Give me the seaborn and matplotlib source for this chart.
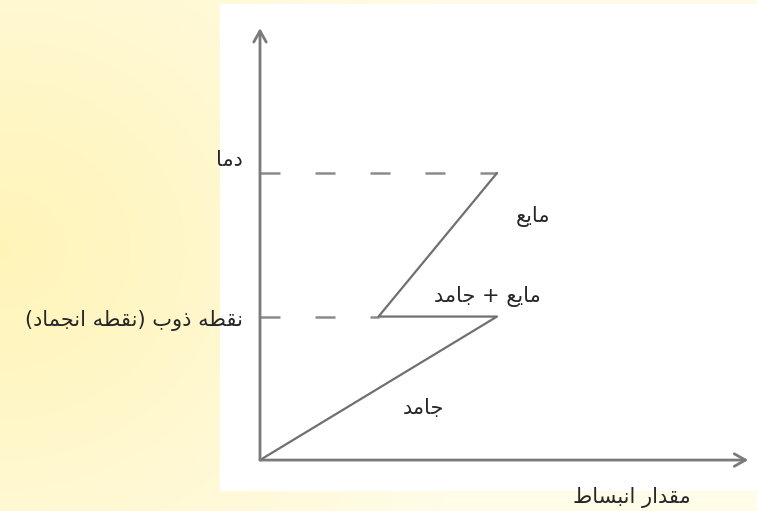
import numpy as np
import pandas as pd
import matplotlib
matplotlib.use('Agg')
import matplotlib.pyplot as plt
import seaborn as sns
from matplotlib.patches import Rectangle

# path of the expansion curve: solid -> melting (contraction) -> liquid
expansion = [0, 4, 2, 4]
temperature = [0, 1, 1, 2]
melting_temp = 1
top_temp = 2
x_axis_end = 8.24
y_axis_end = 3.01

labels = {
    'temp': 'دما',
    'melt': 'نقطه ذوب (نقطه انجماد)',
    'liquid': 'مایع',
    'mix': 'مایع + جامد',
    'solid': 'جامد',
    'xlabel': 'مقدار انبساط',
}

# matplotlib does no arabic shaping, so pick the presentation forms by hand
# (isolated, final, initial, medial)
FORMS = {
    'ا': ('\ufe8d', '\ufe8e', None, None),
    'ب': ('\ufe8f', '\ufe90', '\ufe91', '\ufe92'),
    'ج': ('\ufe9d', '\ufe9e', '\ufe9f', '\ufea0'),
    'د': ('\ufea9', '\ufeaa', None, None),
    'ذ': ('\ufeab', '\ufeac', None, None),
    'ر': ('\ufead', '\ufeae', None, None),
    'س': ('\ufeb1', '\ufeb2', '\ufeb3', '\ufeb4'),
    'ط': ('\ufec1', '\ufec2', '\ufec3', '\ufec4'),
    'ع': ('\ufec9', '\ufeca', '\ufecb', '\ufecc'),
    'ق': ('\ufed5', '\ufed6', '\ufed7', '\ufed8'),
    'م': ('\ufee1', '\ufee2', '\ufee3', '\ufee4'),
    'ن': ('\ufee5', '\ufee6', '\ufee7', '\ufee8'),
    'ه': ('\ufee9', '\ufeea', '\ufeeb', '\ufeec'),
    'و': ('\ufeed', '\ufeee', None, None),
    '\u06cc': ('\ufbfc', '\ufbfd', '\ufbfe', '\ufbff'),
    '\u064a': ('\ufbfc', '\ufbfd', '\ufbfe', '\ufbff'),
}
MIRROR = {'(': ')', ')': '('}


def shape(text):
    out = []
    for i, ch in enumerate(text):
        if ch not in FORMS:
            out.append(MIRROR.get(ch, ch))
            continue
        iso, fin, ini, med = FORMS[ch]
        prev = text[i - 1] if i > 0 else None
        nxt = text[i + 1] if i + 1 < len(text) else None
        join_prev = prev in FORMS and FORMS[prev][2] is not None
        join_next = nxt in FORMS and ini is not None
        if join_prev and join_next:
            out.append(med)
        elif join_prev:
            out.append(fin)
        elif join_next:
            out.append(ini)
        else:
            out.append(iso)
    return ''.join(reversed(out))


sns.set_style('white')
plt.rcParams['font.family'] = ['DejaVu Sans']

df = pd.DataFrame({'expansion': expansion, 'temperature': temperature})
line_color = '#707070'

fig = plt.figure(figsize=(7.57, 5.11), dpi=100)

# yellow page background with the white picture on it
bg = fig.add_axes([0, 0, 1, 1])
bg.axis('off')
yy, xx = np.mgrid[0:511, 0:757]
t = np.clip(np.sqrt((xx / 520) ** 2 + ((yy - 250) / 480) ** 2), 0, 1)
yellow = np.array([255, 244, 184]) / 255
cream = np.array([255, 252, 232]) / 255
img = yellow * (1 - t)[..., None] + cream * t[..., None]
bg.imshow(img, extent=[0, 1, 0, 1], aspect='auto', origin='upper')
bg.add_patch(Rectangle((220 / 757, 21 / 511), 537 / 757, 486 / 511,
                       color='white', transform=bg.transAxes))
bg.set_xlim(0, 1)
bg.set_ylim(0, 1)

ax = fig.add_axes([0, 0, 1, 1])
ax.set_facecolor('none')
ax.axis('off')
ax.set_xlim(-4.388, 8.388)
ax.set_ylim(-0.355, 3.206)

# dashed guides to the temperature axis
ax.plot([0, expansion[3]], [top_temp, top_temp], color=line_color,
        lw=1.8, dashes=(8, 14), alpha=0.8)
ax.plot([0, expansion[2]], [melting_temp, melting_temp], color=line_color,
        lw=1.8, dashes=(8, 14), alpha=0.8)

sns.lineplot(data=df, x='expansion', y='temperature', sort=False,
             estimator=None, color=line_color, lw=1.6, ax=ax)

# axes with open arrowheads
arrow = dict(arrowstyle='->,head_length=0.8,head_width=0.45',
             color='#7a7a7a', lw=2, shrinkA=0, shrinkB=0)
ax.annotate('', xy=(0, y_axis_end), xytext=(0, 0), arrowprops=arrow)
ax.annotate('', xy=(x_axis_end, 0), xytext=(0, 0), arrowprops=arrow)

fs = 15
ax.text(-0.29, 2.09, shape(labels['temp']), ha='right', va='center', fontsize=fs)
ax.text(-0.29, 0.976, shape(labels['melt']), ha='right', va='center', fontsize=fs)
ax.text(4.61, 1.70, shape(labels['liquid']), ha='center', va='center', fontsize=fs)
ax.text(3.83, 1.143, shape(labels['mix']), ha='center', va='center', fontsize=fs)
ax.text(2.75, 0.362, shape(labels['solid']), ha='center', va='center', fontsize=fs)
ax.text(6.28, -0.258, shape(labels['xlabel']), ha='center', va='center', fontsize=fs)

fig.savefig('out.png', dpi=100)
